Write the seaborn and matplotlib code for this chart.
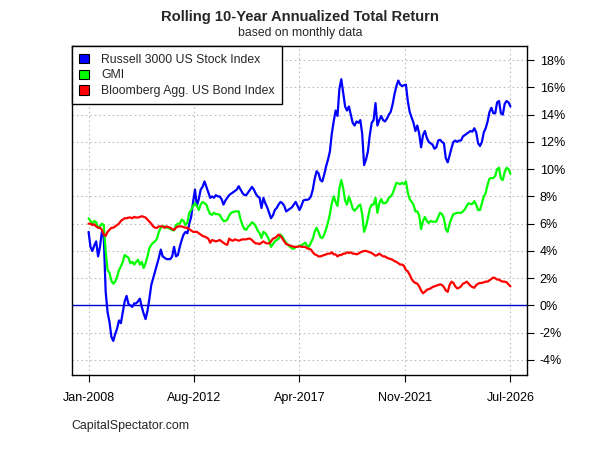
import numpy as np
import pandas as pd
import matplotlib
matplotlib.use("Agg")
import matplotlib.pyplot as plt
from matplotlib.patches import Patch
import seaborn as sns

# ---------------- data (rolling 10y annualized total return, %) ----------------
tick_labels = ["Jan-2008", "Aug-2012", "Apr-2017", "Nov-2021", "Jul-2026"]
series_names = ["Russell 3000 US Stock Index", "GMI", "Bloomberg Agg. US Bond Index"]

russell = [
    5.4, 4.3, 4.0, 4.4, 4.7, 3.6, 4.3, 5.4, 5.0, 1.0,
    -0.5, -1.2, -2.3, -2.6, -2.1, -1.7, -1.1, -1.3, -0.5, 0.3,
    0.7, 0.1, 0.0, -0.1, 0.15, 0.15, 0.3, 0.5, -0.1, -0.6,
    -1.0, -0.4, 0.5, 1.5, 2.0, 2.5, 3.0, 3.5, 4.1, 3.6,
    3.5, 3.4, 3.4, 3.4, 3.6, 4.3, 3.6, 3.7, 4.3, 4.8,
    5.2, 5.4, 5.3, 6.0, 6.5, 7.6, 8.5, 7.3, 7.8, 8.5,
    8.7, 9.1, 8.7, 8.3, 7.9, 8.0, 7.9, 8.1, 8.0, 8.0,
    7.8, 7.4, 7.7, 7.9, 8.1, 8.2, 8.3, 8.4, 8.5, 8.75,
    8.5, 8.25, 8.1, 8.1, 8.3, 8.5, 8.7, 8.5, 8.2, 8.0,
    7.9, 7.15, 7.9, 7.5, 7.2, 6.8, 6.4, 6.6, 7.0, 7.15,
    7.4, 7.6, 7.5, 7.3, 6.9, 7.0, 7.1, 7.2, 7.4, 7.6,
    7.3, 7.0, 7.3, 7.7, 7.75, 7.75, 7.8, 8.0, 8.5, 9.3,
    9.85, 9.7, 9.2, 9.1, 9.6, 10.2, 10.7, 11.3, 12.6, 13.5,
    14.3, 13.9, 15.9, 16.6, 15.6, 14.6, 14.3, 14.6, 14.0, 13.4,
    13.2, 13.5, 13.4, 13.6, 12.6, 10.3, 10.7, 11.3, 12.5, 13.4,
    13.6, 14.85, 13.2, 13.6, 13.9, 13.6, 13.5, 13.7, 14.0, 14.2,
    14.75, 15.5, 16.1, 16.5, 16.2, 16.1, 16.15, 16.2, 15.0, 14.2,
    13.8, 13.4, 12.8, 13.2, 12.6, 11.6, 12.5, 12.8, 12.3, 12.0,
    11.9, 11.8, 11.5, 11.6, 12.1, 12.15, 12.0, 11.9, 10.8, 10.5,
    11.0, 11.55, 12.0, 12.1, 12.0, 12.1, 12.1, 12.4, 12.5, 12.6,
    12.7, 12.8, 12.75, 13.0, 12.7, 11.9, 11.7, 12.0, 12.7, 13.0,
    13.5, 14.2, 14.5, 14.1, 14.1, 14.9, 15.0, 14.1, 14.0, 14.8,
    15.0, 14.9, 14.6,
]

gmi = [
    6.4, 6.2, 6.0, 6.2, 6.1, 5.7, 5.8, 6.0, 5.9, 4.0,
    2.6, 2.4, 1.8, 1.6, 1.75, 2.1, 2.6, 2.85, 3.2, 3.7,
    3.6, 3.5, 3.1, 3.2, 3.0, 3.2, 3.35, 3.0, 3.2, 2.75,
    3.1, 3.6, 4.2, 4.45, 4.6, 4.7, 4.9, 5.4, 5.7, 5.8,
    5.8, 5.7, 5.7, 5.6, 5.55, 5.5, 5.9, 6.0, 6.0, 6.3,
    6.2, 5.9, 6.1, 6.8, 7.0, 7.3, 7.5, 7.3, 7.0, 7.4,
    7.6, 7.5, 7.4, 7.0, 6.7, 6.65, 6.8, 6.7, 6.7, 6.65,
    6.4, 6.2, 6.2, 6.3, 6.6, 6.8, 6.85, 6.9, 6.9, 6.9,
    6.3, 5.9, 5.6, 5.55, 5.8, 5.9, 6.1, 6.0, 5.8, 5.5,
    5.3, 4.95, 5.4, 5.3, 5.1, 4.8, 4.3, 4.5, 4.7, 4.8,
    4.9, 5.2, 5.05, 4.8, 4.6, 4.45, 4.3, 4.2, 4.15, 4.3,
    4.3, 4.4, 4.4, 4.5, 4.6, 4.4, 4.3, 4.6, 4.9, 5.4,
    5.7, 5.4, 5.0, 4.95, 5.2, 5.6, 6.1, 6.7, 7.5, 8.0,
    7.6, 7.3, 8.6, 9.2, 8.6, 7.7, 7.4, 8.0, 7.6, 7.1,
    6.95, 7.1, 7.3, 7.4, 6.7, 5.4, 5.8, 6.4, 7.1, 7.4,
    7.4, 7.9, 6.8, 7.5, 7.8, 7.5, 7.5, 7.6, 7.9, 8.0,
    8.2, 8.6, 9.0, 8.95, 8.9, 9.0, 8.9, 9.1, 8.3, 7.8,
    7.6, 7.4, 6.9, 6.9, 6.6, 5.6, 6.2, 6.5, 6.2, 6.05,
    6.2, 6.15, 6.15, 6.15, 6.5, 6.8, 6.7, 6.4, 5.6, 5.4,
    6.0, 6.4, 6.7, 6.75, 6.8, 6.8, 6.8, 6.9, 7.05, 7.3,
    7.5, 7.45, 7.45, 7.65, 7.4, 7.0, 7.0, 7.5, 8.0, 8.25,
    8.85, 9.3, 9.35, 9.35, 9.5, 10.0, 10.1, 9.3, 9.2, 9.8,
    10.1, 10.0, 9.65,
]

bonds = [
    6.0, 6.0, 5.9, 5.95, 5.8, 5.7, 5.7, 5.55, 5.2, 5.1,
    5.4, 5.55, 5.7, 5.7, 5.8, 5.9, 6.0, 6.2, 6.3, 6.4,
    6.4, 6.45, 6.45, 6.4, 6.5, 6.45, 6.45, 6.5, 6.55, 6.5,
    6.45, 6.3, 6.15, 6.0, 5.8, 5.7, 5.7, 5.8, 5.8, 5.8,
    5.7, 5.8, 5.75, 5.7, 5.6, 5.55, 5.7, 5.8, 5.8, 5.8,
    5.75, 5.7, 5.7, 5.6, 5.5, 5.4, 5.4, 5.4, 5.3, 5.2,
    5.1, 5.05, 5.0, 4.9, 4.6, 4.8, 4.75, 4.7, 4.75, 4.8,
    4.7, 4.6, 4.5, 4.45, 4.9, 4.8, 4.75, 4.85, 4.8, 4.75,
    4.8, 4.85, 4.85, 4.85, 4.9, 4.9, 4.8, 4.65, 4.55, 4.55,
    4.5, 4.6, 4.7, 4.6, 4.55, 4.55, 4.7, 4.9, 4.95, 5.05,
    5.2, 5.1, 4.9, 4.7, 4.5, 4.45, 4.4, 4.35, 4.3, 4.3,
    4.3, 4.35, 4.3, 4.3, 4.3, 4.2, 4.15, 4.1, 3.9, 3.75,
    3.7, 3.6, 3.6, 3.65, 3.7, 3.75, 3.8, 3.8, 3.9, 3.75,
    3.75, 3.6, 3.7, 3.7, 3.8, 3.8, 3.9, 3.85, 3.9, 3.8,
    3.8, 3.75, 3.8, 3.9, 3.95, 4.0, 4.0, 3.95, 3.9, 3.85,
    3.75, 3.65, 3.7, 3.8, 3.7, 3.6, 3.6, 3.5, 3.45, 3.4,
    3.35, 3.25, 3.2, 3.1, 3.0, 3.0, 2.9, 2.6, 2.5, 2.25,
    1.95, 1.75, 1.65, 1.6, 1.4, 1.1, 0.9, 1.0, 1.15, 1.2,
    1.25, 1.35, 1.4, 1.45, 1.5, 1.55, 1.5, 1.35, 1.1, 1.0,
    1.5, 1.75, 1.65, 1.4, 1.25, 1.3, 1.4, 1.6, 1.65, 1.75,
    1.6, 1.45, 1.35, 1.3, 1.5, 1.6, 1.65, 1.65, 1.7, 1.75,
    1.75, 1.85, 1.95, 2.05, 2.0, 1.9, 1.9, 1.8, 1.75, 1.75,
    1.7, 1.55, 1.4,
]

y_ticks = [-4, -2, 0, 2, 4, 6, 8, 10, 12, 14, 16, 18]

# ---------------- build long table ----------------
n = len(russell)
month_idx = np.arange(n)
df = pd.concat([
    pd.DataFrame({"m": month_idx, "ret": vals, "series": name})
    for name, vals in zip(series_names, [russell, gmi, bonds])
], ignore_index=True)

colors = ["#0000FF", "#00FF00", "#FF0000"]
palette = dict(zip(series_names, colors))

# ---------------- style ----------------
sns.set_theme(style="white")
plt.rcParams["font.family"] = ["Liberation Sans", "DejaVu Sans"]

fig = plt.figure(figsize=(6, 4.5), dpi=100)
ax = fig.add_axes([0.1195, 0.1667, 0.7593, 0.73])

# zero line
ax.axhline(0, color="#0000CC", lw=1.0, zorder=1)

sns.lineplot(data=df, x="m", y="ret", hue="series", hue_order=series_names,
             palette=palette, linewidth=1.6, legend=False, ax=ax, zorder=3)

span = n - 1
ax.set_xlim(-0.04 * span, span * 1.04)
ax.set_ylim(-5.1, 19.0)

xt = np.linspace(0, span, len(tick_labels))
ax.set_xticks(xt)
ax.set_xticklabels(tick_labels, fontsize=9)
ax.set_yticks(y_ticks)
ax.set_yticklabels([f"{t}%" for t in y_ticks], fontsize=9)

ax.yaxis.tick_right()
ax.yaxis.set_label_position("right")
ax.tick_params(axis="both", direction="out", length=5, width=0.8, color="black",
               labelcolor="black", pad=4)
ax.tick_params(axis="x", pad=7)
ax.tick_params(left=False, bottom=True, right=True)

ax.grid(True, which="major", linestyle=(0, (1.5, 2.5)), color="#BEBEBE", lw=0.8)
ax.set_axisbelow(True)

for s in ax.spines.values():
    s.set_color("black")
    s.set_linewidth(1.0)

ax.set_xlabel("")
ax.set_ylabel("")

handles = [Patch(facecolor=c, edgecolor="black", linewidth=0.8) for c in colors]
leg = ax.legend(handles, series_names, loc="upper left", fontsize=8.8,
                frameon=True, fancybox=False, borderaxespad=0,
                handlelength=0.8, handleheight=0.8, handletextpad=1.0,
                labelspacing=0.3, borderpad=0.6)
leg.get_frame().set_edgecolor("black")
leg.get_frame().set_linewidth(1.0)
leg.get_frame().set_alpha(1)

fig.text(0.5, 1 - 17 / 450, "Rolling 10-Year Annualized Total Return",
         ha="center", va="center", fontsize=10.6, fontweight="bold")
fig.text(0.5, 1 - 33 / 450, "based on monthly data",
         ha="center", va="center", fontsize=8.8)
fig.text(71.7 / 600, 1 - 426 / 450, "CapitalSpectator.com",
         ha="left", va="center", fontsize=8.9)

fig.savefig("out.png", dpi=100)
